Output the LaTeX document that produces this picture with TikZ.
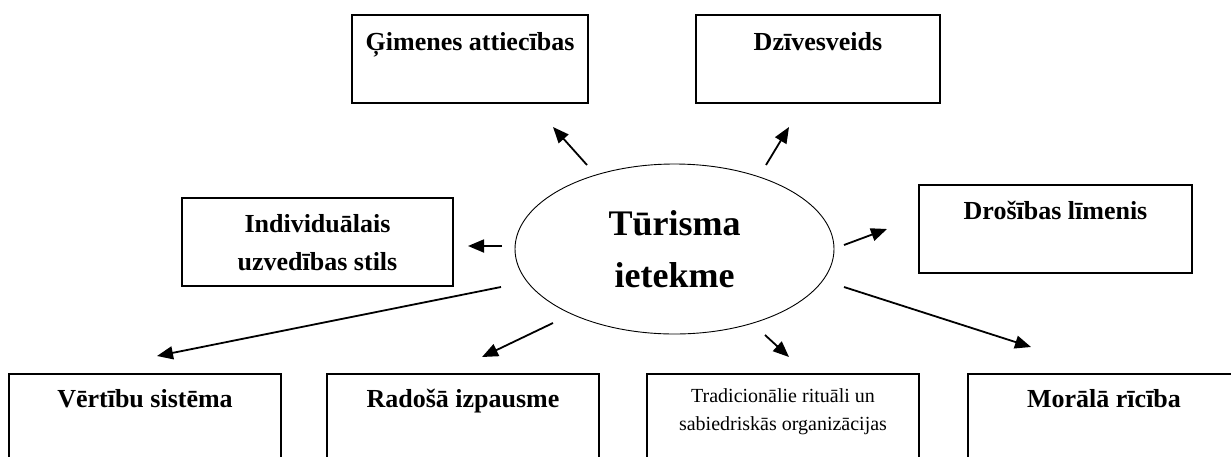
\documentclass[tikz,border=0pt]{standalone}
\usepackage{fontspec}
\setmainfont{Liberation Serif}
\usepackage{tikz}
\usetikzlibrary{arrows.meta,positioning,shapes.geometric}

\tikzset{
  box/.style={draw, line width=1.3pt, minimum height=88pt, inner sep=0pt},
  head/.style={font=\bfseries\fontsize{26}{38}\selectfont, align=center, inner sep=0pt},
  plain/.style={font=\fontsize{20}{28}\selectfont, align=center, inner sep=0pt},
  arr/.style={-{Triangle[length=16pt,width=13pt]}, line width=1.8pt},
}

\begin{document}
\begin{tikzpicture}[x=1pt, y=-1pt]
  \useasboundingbox (0,0) rectangle (1231,456);

  % centre
  \node[ellipse, draw, line width=0.9pt, minimum width=319pt, minimum height=170pt,
        inner sep=0pt, font=\bfseries\fontsize{36}{52}\selectfont, align=center]
        (tur) at (674.5,249) {Tūrisma\\ietekme};

  % top and middle boxes
  \node[box, minimum width=236pt] (gim) at (470,59) {};
  \node[head, below=18pt of gim.north] (gimtxt) {Ģimenes attiecības};
  \node[box, minimum width=244pt] (dziv) at (818,59) {};
  \node[head, below=18pt of dziv.north] (dzivtxt) {Dzīvesveids};
  \node[box, minimum width=273pt] (dros) at (1055.5,229) {};
  \node[head, below=17pt of dros.north] (drostxt) {Drošības līmenis};
  \node[box, minimum width=271pt] (indiv) at (317.5,242) {};
  \node[head, below=17pt of indiv.north] (indivtxt) {Individuālais\\uzvedības stils};

  % bottom row
  \foreach \nm/\x/\txt in {vert/145/{Vērtību sistēma}, rad/463/{Radošā izpausme}, mor/1104/{Morālā rīcība}} {
    \node[box, minimum width=272pt] (\nm) at (\x,418) {};
    \node[head, below=16pt of \nm.north] (\nm txt) {\txt};
  }
  \node[box, minimum width=272pt] (trad) at (783,418) {};
  \node[plain, below=15pt of trad.north] (tradtxt) {Tradicionālie rituāli un\\sabiedriskās organizācijas};

  % arrows
  \coordinate (a1) at (587,165);   \coordinate (b1) at (553,127);
  \coordinate (a2) at (766,165);   \coordinate (b2) at (789,127);
  \coordinate (a3) at (844,245);   \coordinate (b3) at (887,229);
  \coordinate (a4) at (502,246);   \coordinate (b4) at (468,246);
  \coordinate (a5) at (501,287);   \coordinate (b5) at (157,356);
  \coordinate (a6) at (553,323);   \coordinate (b6) at (482,357);
  \coordinate (a7) at (765,335);   \coordinate (b7) at (789,357);
  \coordinate (a8) at (844,287);   \coordinate (b8) at (1031,347);
  \foreach \i in {1,...,8}
    \draw[arr] (a\i) -- (b\i);
\end{tikzpicture}
\end{document}
